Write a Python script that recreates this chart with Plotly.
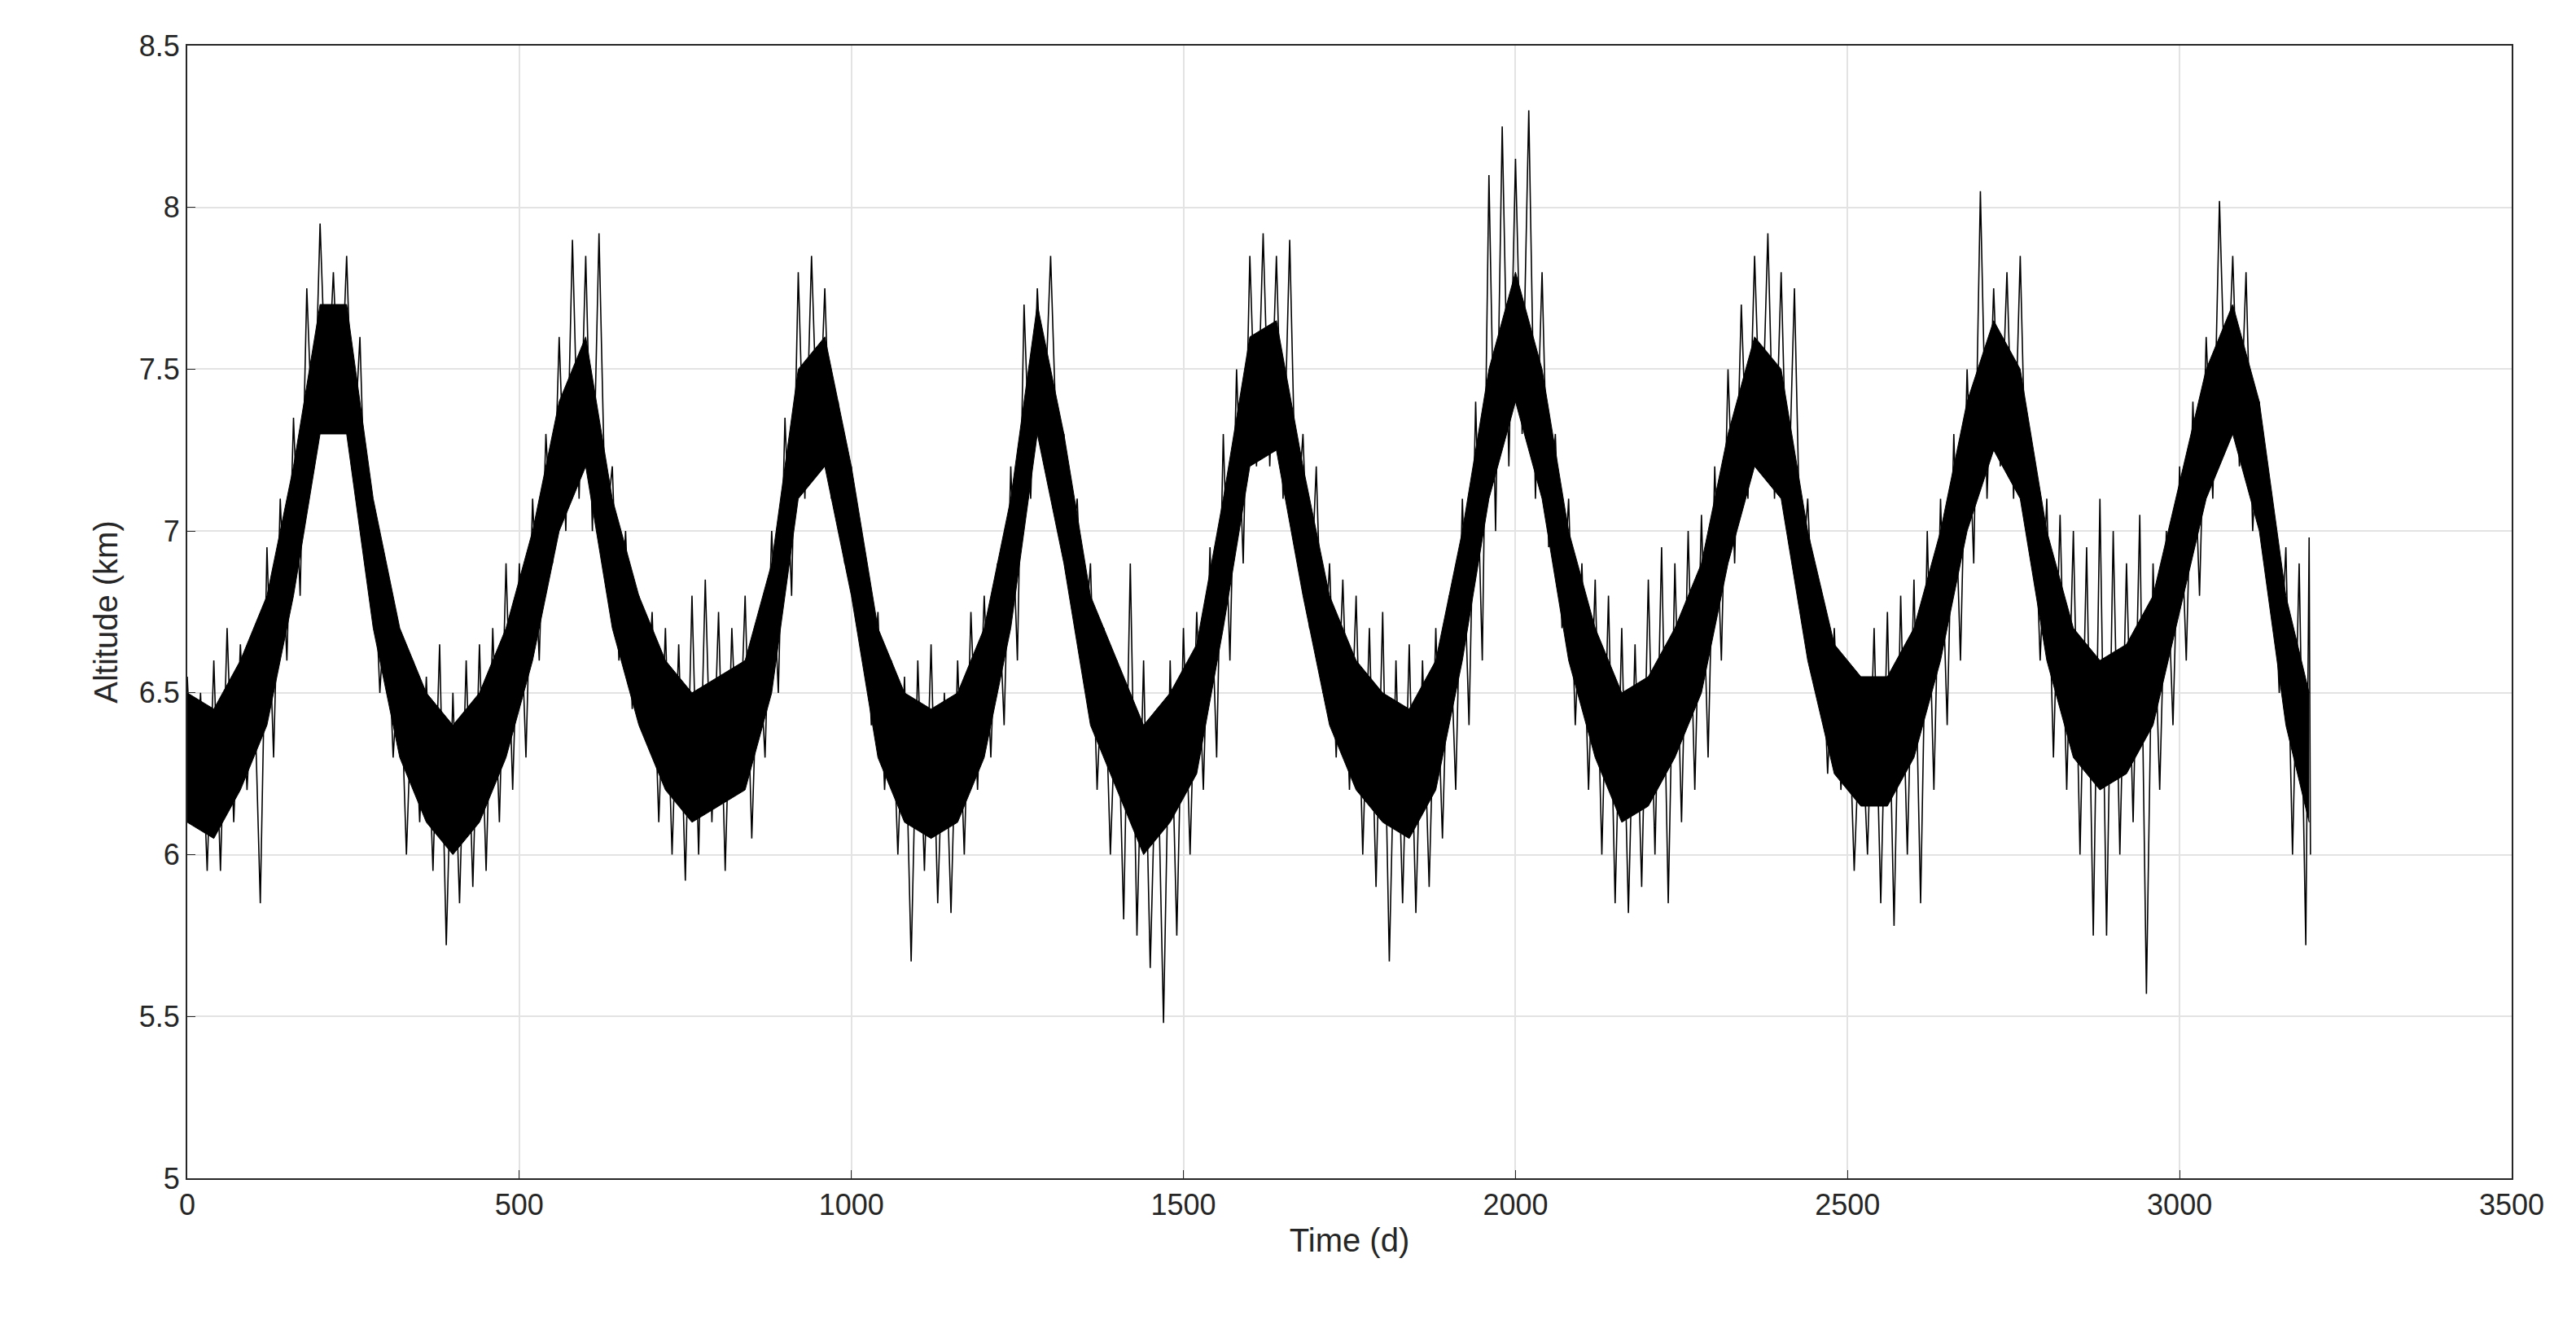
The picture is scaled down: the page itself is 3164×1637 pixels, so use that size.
import plotly.graph_objects as go

days = list(range(0, 3200, 20))[:160] + [3195]
hi = [6.55,6.5,6.6,6.7,6.65,6.6,6.95,7.1,7.35,7.75,7.95,7.8,7.85,7.6,7.0,6.85,6.65,6.6,6.55,6.65,
      6.5,6.6,6.65,6.7,6.9,6.9,7.1,7.3,7.6,7.9,7.85,7.92,7.2,7.0,6.8,6.75,6.7,6.65,6.8,6.85,
      6.75,6.7,6.8,6.7,7.0,7.35,7.8,7.85,7.75,7.4,7.2,6.9,6.75,6.6,6.55,6.6,6.65,6.5,6.6,6.75,
      6.8,6.9,7.2,7.7,7.75,7.85,7.3,7.1,6.9,6.7,6.6,6.9,6.6,6.45,6.6,6.7,6.75,6.95,7.3,7.5,
      7.85,7.92,7.85,7.9,7.3,7.2,6.9,6.85,6.8,6.7,6.75,6.6,6.65,6.6,6.7,6.8,7.1,7.4,8.1,8.25,
      8.15,8.3,7.8,7.3,7.1,6.9,6.85,6.8,6.7,6.65,6.85,6.95,6.9,7.0,7.05,7.2,7.5,7.7,7.85,7.92,
      7.8,7.75,7.1,6.8,6.7,6.6,6.5,6.7,6.75,6.8,6.85,7.0,7.1,7.3,7.5,8.05,7.75,7.8,7.85,7.2,
      7.1,7.05,7.0,6.95,7.1,7.0,6.9,7.05,6.9,7.0,7.2,7.4,7.6,8.02,7.85,7.8,7.4,7.0,6.95,6.9,
      6.98]
lo = [6.1,5.95,5.95,6.1,6.2,5.85,6.3,6.6,6.8,7.2,7.35,7.3,7.2,6.9,6.5,6.3,6.0,6.1,5.95,5.72,
      5.85,5.9,5.95,6.1,6.2,6.3,6.6,6.9,7.0,7.1,7.0,7.0,6.6,6.45,6.4,6.1,6.0,5.92,6.0,6.1,
      5.95,6.2,6.05,6.3,6.5,6.8,7.1,7.2,7.1,6.9,6.7,6.4,6.2,6.0,5.67,5.95,5.85,5.82,6.0,6.2,
      6.3,6.4,6.6,7.1,7.3,7.2,6.9,6.6,6.2,6.0,5.8,5.75,5.65,5.48,5.75,6.0,6.2,6.3,6.6,6.9,
      7.2,7.2,7.1,7.0,6.7,6.5,6.3,6.2,6.0,5.9,5.67,5.85,5.82,5.9,6.05,6.2,6.4,6.6,7.0,7.2,
      7.3,7.1,6.95,6.7,6.4,6.2,6.0,5.85,5.82,5.9,6.0,5.85,6.1,6.2,6.3,6.6,6.9,7.1,7.2,7.1,
      7.0,6.8,6.6,6.25,6.2,5.95,6.0,5.85,5.78,6.0,5.85,6.2,6.4,6.6,6.9,7.1,7.2,7.1,7.0,6.6,
      6.3,6.2,6.0,5.75,5.75,6.0,6.1,5.57,6.2,6.4,6.6,6.8,7.1,7.3,7.2,7.0,6.9,6.5,6.0,5.72,
      6.0]

# dense core of the signal, read every 40 days
core_days = list(range(0, 3200, 40)) + [3195]
core_hi = [6.5,6.45,6.6,6.8,7.2,7.7,7.7,7.1,6.7,6.5,6.4,6.5,6.7,7.0,7.4,7.6,7.1,6.8,6.6,6.5,
           6.55,6.6,6.9,7.5,7.6,7.2,6.7,6.5,6.45,6.5,6.7,7.1,7.7,7.3,6.8,6.6,6.4,6.5,6.65,7.1,
           7.6,7.65,7.2,6.8,6.6,6.5,6.45,6.6,7.0,7.5,7.8,7.5,7.0,6.7,6.5,6.55,6.7,6.9,7.3,7.6,
           7.5,7.0,6.65,6.55,6.55,6.7,7.0,7.4,7.65,7.5,7.0,6.7,6.6,6.65,6.8,7.15,7.5,7.7,7.4,6.8,
           6.5]
core_lo = [6.1,6.05,6.2,6.4,6.8,7.3,7.3,6.7,6.3,6.1,6.0,6.1,6.3,6.6,7.0,7.2,6.7,6.4,6.2,6.1,
           6.15,6.2,6.5,7.1,7.2,6.8,6.3,6.1,6.05,6.1,6.3,6.7,7.3,6.9,6.4,6.2,6.0,6.1,6.25,6.7,
           7.2,7.25,6.8,6.4,6.2,6.1,6.05,6.2,6.6,7.1,7.4,7.1,6.6,6.3,6.1,6.15,6.3,6.5,6.9,7.2,
           7.1,6.6,6.25,6.15,6.15,6.3,6.6,7.0,7.25,7.1,6.6,6.3,6.2,6.25,6.4,6.75,7.1,7.3,7.0,6.4,
           6.1]

t, alt = [], []
for i, d in enumerate(days):
    t.append(d); alt.append(hi[i])
    t.append(d + 10 if i < len(days) - 1 else d + 2); alt.append(lo[i])

fig = go.Figure()
fig.add_trace(go.Scatter(x=core_days, y=core_lo, mode="lines", line=dict(color="black", width=1)))
fig.add_trace(go.Scatter(x=core_days, y=core_hi, mode="lines", line=dict(color="black", width=1),
                         fill="tonexty", fillcolor="black"))
fig.add_trace(go.Scatter(x=t, y=alt, mode="lines", line=dict(color="black", width=1.6)))
ax = dict(showline=True, linecolor="#262626", linewidth=2, mirror=True, ticks="inside",
          ticklen=10, tickcolor="#262626", showgrid=True, gridcolor="#e3e3e3", gridwidth=2,
          zeroline=False, tickfont=dict(size=36, color="#262626"))
fig.update_xaxes(range=[0, 3500], dtick=500, title=dict(text="Time (d)", font=dict(size=40, color="#262626"), standoff=10), **ax)
fig.update_yaxes(range=[5, 8.5], dtick=0.5, title=dict(text="Altitude (km)", font=dict(size=40, color="#262626"), standoff=14), **ax)
fig.update_layout(width=3164, height=1637, plot_bgcolor="white", paper_bgcolor="white",
                  font=dict(family="Liberation Sans"), showlegend=False,
                  margin=dict(l=222, r=87, t=48, b=198))
fig.write_html("out.html")
